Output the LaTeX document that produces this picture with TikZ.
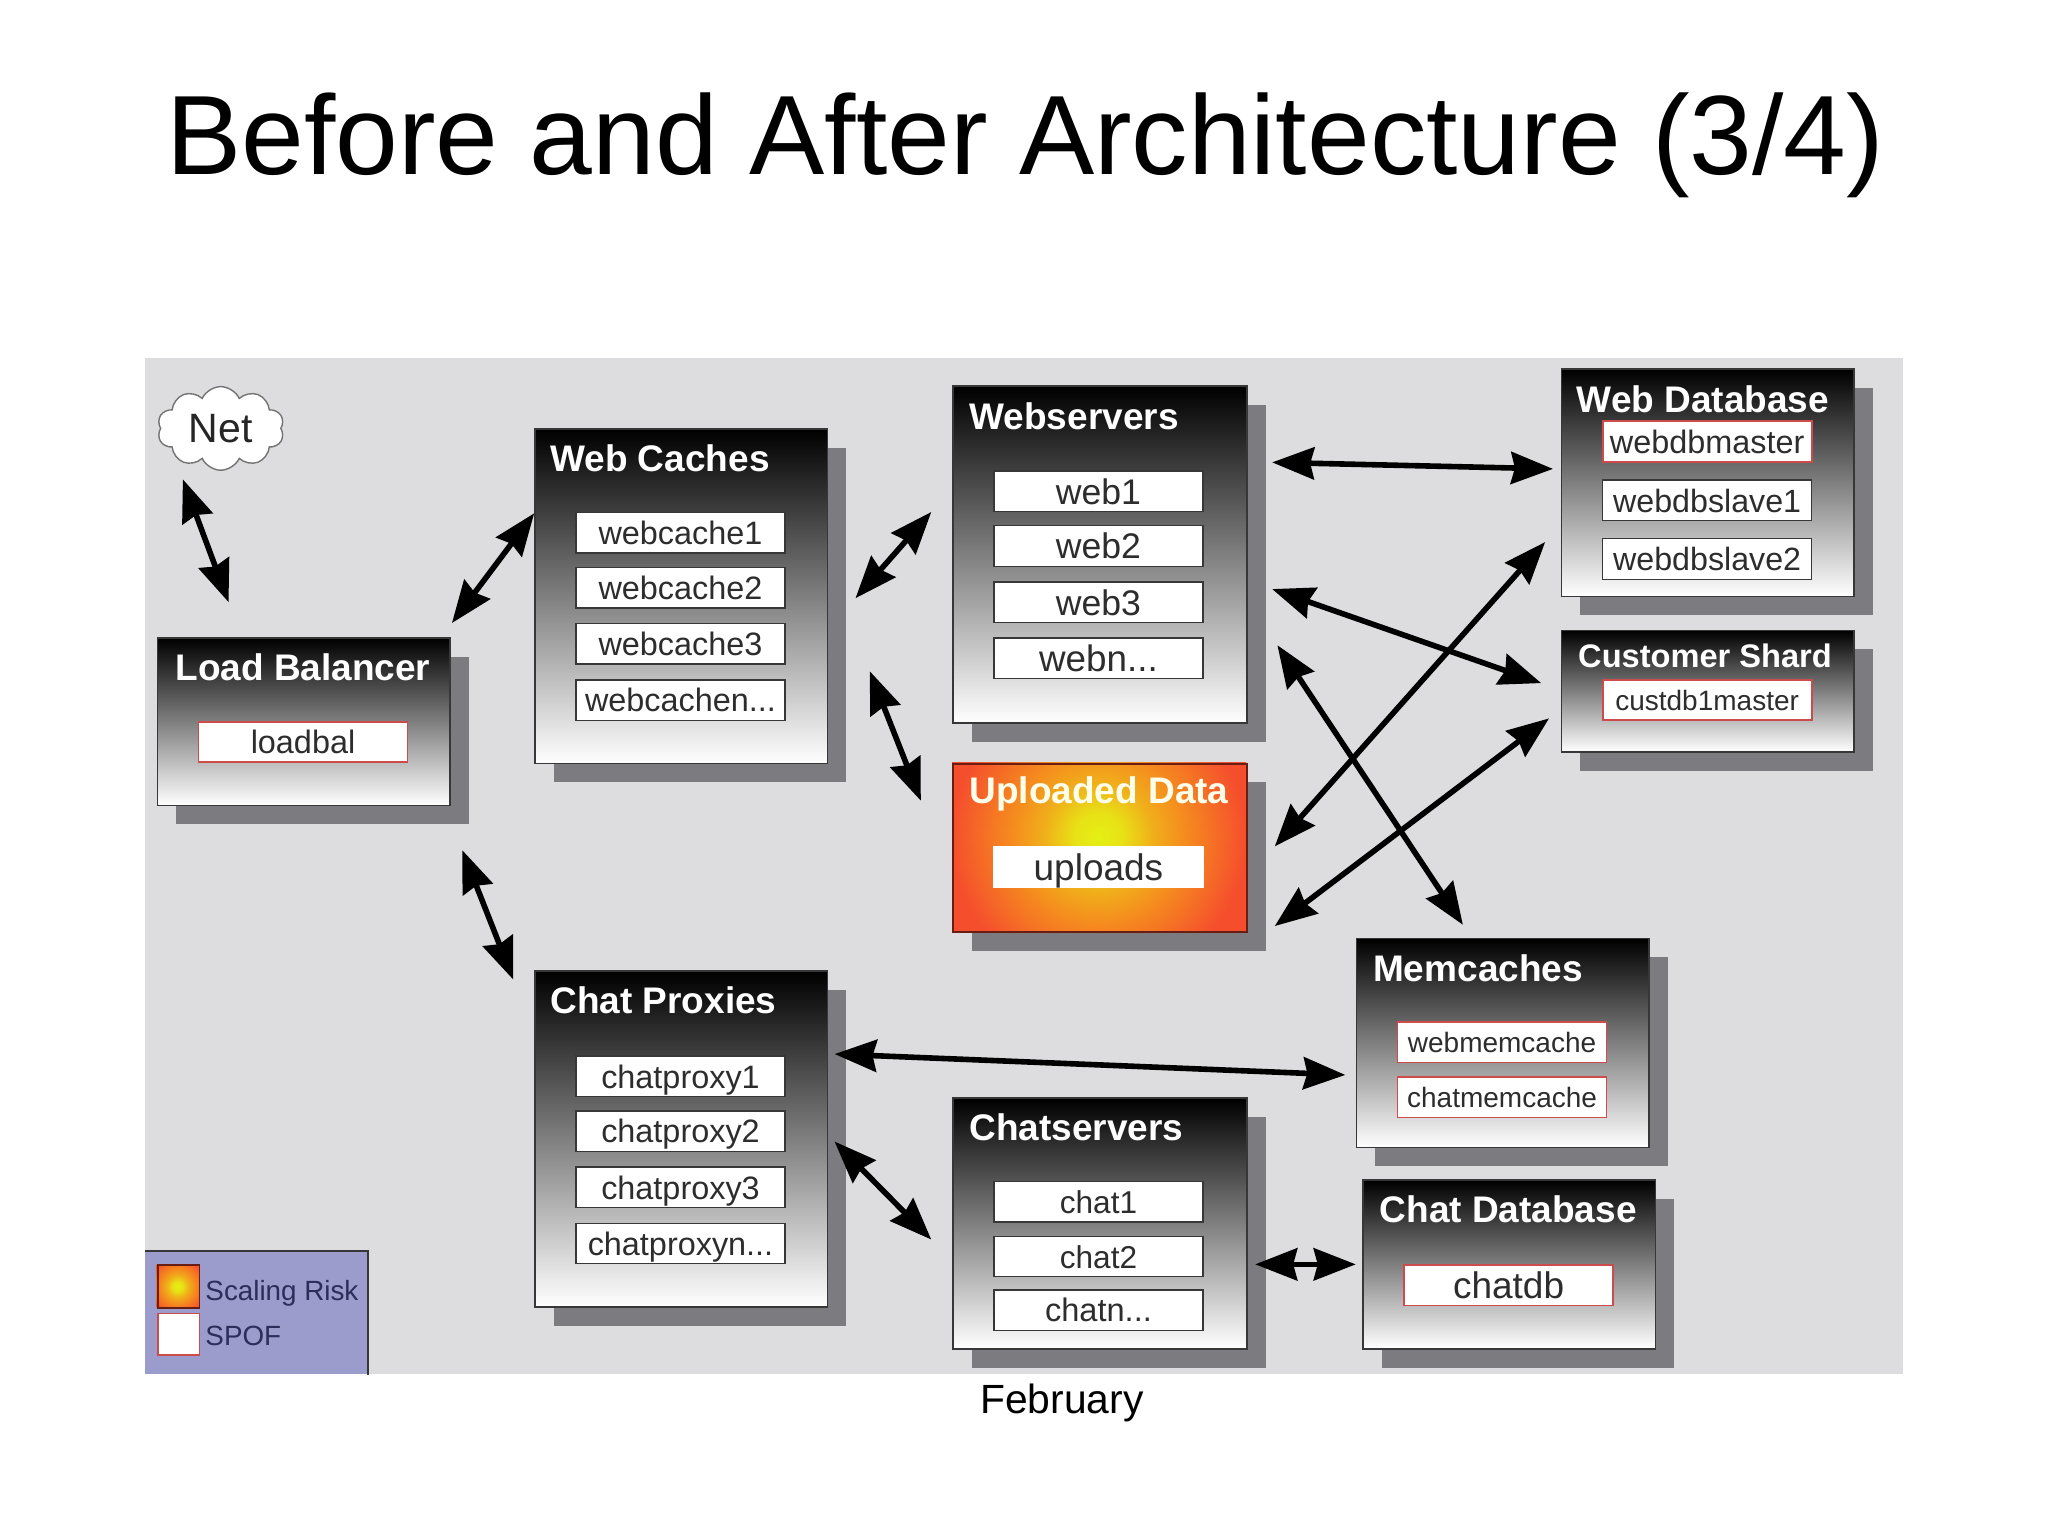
\documentclass[tikz,border=0pt]{standalone}
\usepackage{fontspec}
\setmainfont{Liberation Sans}
\usetikzlibrary{arrows.meta,shapes.symbols}
\def\uu{0.653061pt}
\newcommand{\fs}[1]{\fontsize{#1pt}{#1pt}\selectfont}
\definecolor{bgc}{RGB}{221,221,223}
\definecolor{shc}{RGB}{124,124,128}
\definecolor{legc}{RGB}{155,155,204}
\definecolor{legt}{RGB}{45,45,90}
\definecolor{frame}{RGB}{55,55,55}
\definecolor{txtc}{RGB}{45,45,45}
\definecolor{spof}{RGB}{205,75,75}
\definecolor{riskedge}{RGB}{105,30,20}
\pgfdeclareradialshading{risk}{\pgfpoint{0bp}{0bp}}{%
  rgb(0bp)=(0.894,0.941,0.078);
  rgb(1.8bp)=(0.910,0.882,0.086);
  rgb(4bp)=(0.941,0.686,0.102);
  rgb(6.3bp)=(0.961,0.549,0.118);
  rgb(10.8bp)=(0.961,0.306,0.176);
  rgb(50bp)=(0.961,0.235,0.176)}
\tikzset{
  x=0.653061pt,y=-0.653061pt,
  groupbox/.style={draw=frame,line width=0.8pt,shade,top color=black,bottom color=white,inner sep=0pt,anchor=north west},
  riskbox/.style={draw=riskedge,line width=0.9pt,inner sep=0pt,anchor=north west},
  shadowbox/.style={fill=shc},
  grouptitle/.style={text=white,font=\bfseries\fs{18.5},anchor=west,inner sep=0pt},
  itembox/.style={draw=frame,line width=0.7pt,fill=white,text=txtc,inner sep=0pt,minimum width=160*\uu,minimum height=31*\uu,font=\fs{#1},text height={0.73*#1pt},text depth=0pt},
  spofbox/.style={itembox=#1,draw=spof,line width=0.9pt},
  legendtext/.style={text=legt,font=\fs{13.9},anchor=west,inner sep=0pt,text height={0.73*13.9pt},text depth=0pt},
  link/.style={line width=2.8pt,{Stealth[length=21pt,width=16pt,inset=2pt]}-{Stealth[length=21pt,width=16pt,inset=2pt]}},
}
\newcommand{\grp}[5]{%
  \fill[shadowbox] ({#2+15},{#3+15}) rectangle ({#4+15},{#5+15});
  \node[groupbox,minimum width={(#4-#2)*\uu},minimum height={(#5-#3)*\uu}] (#1) at (#2,#3) {};
}
\begin{document}
\begin{tikzpicture}
\useasboundingbox (0,0) rectangle (1568,1176);
\fill[white] (0,0) rectangle (1568,1176);
\node[font=\fs{56.4},anchor=center,inner sep=0pt] (title) at (785,111) {Before and After Architecture (3/4)};
\fill[bgc] (111,274) rectangle (1457,1052);
\node[font=\fs{20.4},inner sep=0pt] (month) at (813,1074) {February};

% net
\node[cloud,cloud puffs=10,cloud puff arc=130,aspect=1.5,draw=black!55,line width=0.7pt,fill=white,inner sep=0pt,minimum width=97*\uu,minimum height=64*\uu,font=\fs{20.5},text=black!85] (net) at (169,328) {Net};

% groups
\grp{lb}{120}{488}{344}{616}
\grp{wc}{409}{328}{633}{584}
\grp{ws}{729}{295}{954}{553}
\fill[shadowbox] (744,599) rectangle (969,728);
\begin{scope}
  \clip (729,584) rectangle (954,713);
  \shade[shading=risk] (841,641) circle[radius=170pt];
\end{scope}
\node[riskbox,minimum width=225*\uu,minimum height=129*\uu] (up) at (729,584) {};
\grp{wdb}{1195}{282}{1419}{456}
\grp{cs}{1195}{482}{1419}{575}
\grp{mem}{1038}{718}{1262}{878}
\grp{cp}{409}{743}{633}{1000}
\grp{chs}{729}{840}{954}{1032}
\grp{cdb}{1043}{903}{1267}{1032}

\node[grouptitle] (t1) at (134,511) {Load Balancer};
\node[grouptitle] (t2) at (421,351) {Web Caches};
\node[grouptitle] (t3) at (742,319) {Webservers};
\node[grouptitle,text=white!92!yellow] (t4) at (742,608) {Uploaded Data};
\node[grouptitle] (t5) at (1207,306) {Web Database};
\node[grouptitle,font=\bfseries\fs{16.3}] (t6) at (1208,502) {Customer Shard};
\node[grouptitle] (t7) at (1051,741) {Memcaches};
\node[grouptitle] (t8) at (421,766) {Chat Proxies};
\node[grouptitle] (t9) at (742,863) {Chatservers};
\node[grouptitle] (t10) at (1056,926) {Chat Database};

% items
\node[spofbox=16.2] (loadbal) at (232,568) {loadbal};
\node[itembox=16.2] (wc1) at (521,408) {webcache1};
\node[itembox=16.2] (wc2) at (521,450) {webcache2};
\node[itembox=16.2] (wc3) at (521,493) {webcache3};
\node[itembox=16.2] (wc4) at (521,536) {webcachen...};
\node[itembox=17.8] (w1) at (841,376) {web1};
\node[itembox=17.8] (w2) at (841,418) {web2};
\node[itembox=17.8] (w3) at (841,461) {web3};
\node[itembox=18.4] (w4) at (841,504) {webn...};
\node[spofbox=18.5,draw=white] (uploads) at (841,664) {uploads};
\node[spofbox=16.2] (wdbm) at (1307,338) {webdbmaster};
\node[itembox=16.1] (wdbs1) at (1307,383) {webdbslave1};
\node[itembox=16.1] (wdbs2) at (1307,428) {webdbslave2};
\node[spofbox=14] (cust) at (1307,536) {custdb1master};
\node[spofbox=14] (wmc) at (1150,798) {webmemcache};
\node[spofbox=14] (cmc) at (1150,840) {chatmemcache};
\node[itembox=16.2] (cp1) at (521,824) {chatproxy1};
\node[itembox=16.2] (cp2) at (521,866) {chatproxy2};
\node[itembox=16.2] (cp3) at (521,909) {chatproxy3};
\node[itembox=16.2] (cp4) at (521,952) {chatproxyn...};
\node[itembox=15.8] (ch1) at (841,920) {chat1};
\node[itembox=15.8] (ch2) at (841,962) {chat2};
\node[itembox=16.3] (ch3) at (841,1003) {chatn...};
\node[spofbox=18.5] (chatdb) at (1155,984) {chatdb};

% legend
\node[fill=legc,inner sep=0pt,anchor=north west,minimum width=170*\uu,minimum height=94*\uu] (legend) at (111,958) {};
\draw[frame,line width=0.8pt] (legend.north west) -- (legend.north east) -- (legend.south east);
\begin{scope}
  \clip (120,968) rectangle (152,1001);
  \shade[shading=risk] (136,985) circle[radius=34pt];
\end{scope}
\node[riskbox,minimum width=32*\uu,minimum height=33*\uu] (swatchr) at (120,968) {};
\node[draw=spof,line width=0.9pt,fill=white,inner sep=0pt,anchor=north west,minimum width=32*\uu,minimum height=32*\uu] (swatchs) at (120,1005) {};
\node[legendtext] (legr) at (157,988) {Scaling Risk};
\node[legendtext] (legs) at (157,1022) {SPOF};

% connector ends
\coordinate (a1) at (140,367);  \coordinate (b1) at (175,461);
\coordinate (a2) at (346,477);  \coordinate (b2) at (409,393);
\coordinate (a3) at (655,458);  \coordinate (b3) at (713,392);
\coordinate (a4) at (666,514);  \coordinate (b4) at (705,613);
\coordinate (a5) at (354,651);  \coordinate (b5) at (393,750);
\coordinate (a6) at (974,354);  \coordinate (b6) at (1189,359);
\coordinate (a7) at (974,451);  \coordinate (b7) at (1180,523);
\coordinate (a8) at (978,494);  \coordinate (b8) at (1120,708);
\coordinate (a9) at (976,648);  \coordinate (b9) at (1183,415);
\coordinate (a10) at (976,709); \coordinate (b10) at (1186,550);
\coordinate (a11) at (639,807); \coordinate (b11) at (1030,823);
\coordinate (a12) at (639,874); \coordinate (b12) at (713,949);
\coordinate (a13) at (961,968); \coordinate (b13) at (1038,968);
\draw[link] (a1) -- (b1);
\draw[link] (a2) -- (b2);
\draw[link] (a3) -- (b3);
\draw[link] (a4) -- (b4);
\draw[link] (a5) -- (b5);
\draw[link] (a6) -- (b6);
\draw[link] (a7) -- (b7);
\draw[link] (a8) -- (b8);
\draw[link] (a9) -- (b9);
\draw[link] (a10) -- (b10);
\draw[link] (a11) -- (b11);
\draw[link] (a12) -- (b12);
\draw[link] (a13) -- (b13);
\end{tikzpicture}
\end{document}
